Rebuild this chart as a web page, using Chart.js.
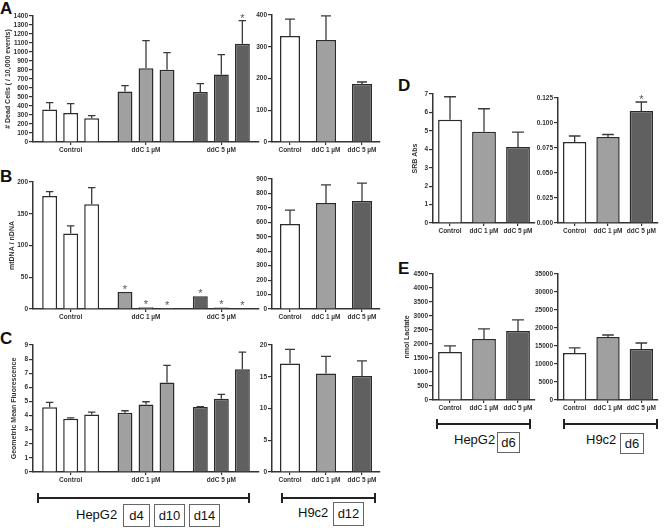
<!DOCTYPE html>
<html>
<head>
<meta charset="utf-8">
<script src="https://cdn.jsdelivr.net/npm/chart.js@4.4.1/dist/chart.umd.min.js"></script>
<style>
  body { margin: 0; background: #fff; width: 664px; height: 528px; position: relative; overflow: hidden;
         font-family: "Liberation Sans", Arial, sans-serif; color: #111; }
  canvas { position: absolute; }
  .pl { position: absolute; font-weight: bold; font-size: 17px; line-height: 17px; }
  .br { position: absolute; height: 0; border-top: 2px solid #222; }
  .br::before, .br::after { content: ''; position: absolute; top: -6px; width: 2px; height: 10px; background: #222; }
  .br::before { left: 0; }
  .br::after { right: 0; }
  .lab { position: absolute; font-size: 13px; line-height: 16px; }
  .box { position: absolute; border: 1px solid #666; font-size: 13px; text-align: center; box-sizing: border-box; }
</style>
</head>
<body>

<div class="pl" style="left:0;top:0">A</div>
<div class="pl" style="left:0;top:168px">B</div>
<div class="pl" style="left:0;top:330px">C</div>
<div class="pl" style="left:398px;top:77px">D</div>
<div class="pl" style="left:398px;top:260px">E</div>

<div class="br" style="left:37px;top:497px;width:213px"></div>
<div class="lab" style="left:76px;top:507px">HepG2</div>
<div class="box" style="left:123px;top:504px;width:27px;height:23px;line-height:21px">d4</div>
<div class="box" style="left:154px;top:504px;width:31px;height:23px;line-height:21px">d10</div>
<div class="box" style="left:189px;top:504px;width:31px;height:23px;line-height:21px">d14</div>

<div class="br" style="left:281px;top:497px;width:95px"></div>
<div class="lab" style="left:298px;top:505px">H9c2</div>
<div class="box" style="left:333px;top:502px;width:31px;height:24px;line-height:22px">d12</div>

<div class="br" style="left:436px;top:423px;width:95px"></div>
<div class="lab" style="left:454px;top:432px">HepG2</div>
<div class="box" style="left:497px;top:432px;width:23px;height:21px;line-height:19px">d6</div>

<div class="br" style="left:563px;top:423px;width:95px"></div>
<div class="lab" style="left:586px;top:432px">H9c2</div>
<div class="box" style="left:620px;top:433px;width:24px;height:21px;line-height:19px">d6</div>

<script>
// categories
const groups = ['Control', 'ddC 1 µM', 'ddC 5 µM'];

// A - dead cells (HepG2 d4, d10, d14; H9c2 d12)
const deadD4 = [360, 560, 556];
const deadD4Err = [78, 67, 93];
const deadD10 = [322, 819, 749];
const deadD10Err = [105, 308, 222];
const deadD14 = [263, 804, 1093];
const deadD14Err = [30, 189, 256];
const deadD14Star = [false, false, true];
const deadH9 = [334, 321, 183];
const deadH9Err = [53, 76, 6];

// B - mtDNA / nDNA
const mtD4 = [178, 26.7, 20];
const mtD4Err = [7, 0, 0];
const mtD10 = [119, 2.7, 2.5];
const mtD10Err = [12, 0, 0];
const mtD14 = [165, 1.6, 1.5];
const mtD14Err = [26, 0, 0];
const mtStar = [false, true, true];
const mtH9 = [588, 733, 747];
const mtH9Err = [97, 127, 125];

// C - geometric mean fluorescence
const fluD4 = [4.58, 4.19, 4.6];
const fluD4Err = [0.35, 0.15, 0.03];
const fluD10 = [3.77, 4.79, 5.19];
const fluD10Err = [0.07, 0.19, 0.31];
const fluD14 = [4.08, 6.35, 7.28];
const fluD14Err = [0.16, 1.21, 1.21];
const fluH9 = [17.1, 15.5, 15.1];
const fluH9Err = [2.2, 2.7, 2.4];

// D - SRB absorbance (d6)
const srbHep = [5.6, 4.95, 4.13];
const srbHepErr = [1.25, 1.25, 0.8];
const srbH9 = [0.081, 0.086, 0.112];
const srbH9Err = [0.006, 0.0025, 0.009];
const srbH9Star = [false, false, true];

// E - lactate (d6)
const lacHep = [1714, 2180, 2460];
const lacHepErr = [216, 360, 400];
const lacH9 = [13055, 17500, 14170];
const lacH9Err = [1400, 550, 1660];

const barColors = ['#ffffff', '#a0a0a0', '#606060'];
const ink = '#333';
const tickFont = { family: 'Liberation Sans', size: 6.5, weight: 'bold' };

// error bars + stars, placed with the y scale
const errorBars = {
  id: 'errorBars',
  afterDatasetsDraw(chart) {
    const ctx = chart.ctx, y = chart.scales.y;
    chart.data.datasets.forEach((ds, i) => {
      chart.getDatasetMeta(i).data.forEach((bar, j) => {
        let top = bar.y;
        const e = ds.errors ? ds.errors[j] : 0;
        ctx.save();
        if (e) {
          const ey = y.getPixelForValue(ds.data[j] + e);
          const half = bar.width / 4;
          ctx.strokeStyle = '#3a3a3a';
          ctx.lineWidth = 1.3;
          ctx.beginPath();
          ctx.moveTo(bar.x, bar.y);
          ctx.lineTo(bar.x, ey);
          ctx.moveTo(bar.x - half, ey);
          ctx.lineTo(bar.x + half, ey);
          ctx.stroke();
          top = ey;
        }
        if (ds.stars && ds.stars[j]) {
          ctx.fillStyle = '#555';
          ctx.font = '11px "Liberation Sans"';
          ctx.textAlign = 'center';
          ctx.textBaseline = 'alphabetic';
          ctx.fillText('*', bar.x, top + 1);
        }
        ctx.restore();
      });
    });
  }
};

function makeChart(s) {
  const c = document.createElement('canvas');
  c.width = s.w; c.height = s.h;
  c.style.left = s.x + 'px'; c.style.top = s.y + 'px';
  c.style.width = s.w + 'px'; c.style.height = s.h + 'px';
  document.body.appendChild(c);

  const datasets = s.series.map(d => ({
    data: d.data,
    errors: d.err,
    stars: d.stars,
    backgroundColor: barColors,
    borderColor: '#2b2b2b',
    borderWidth: 1.5,
    borderSkipped: 'start',
    categoryPercentage: s.cat,
    barPercentage: s.bar
  }));

  new Chart(c, {
    type: 'bar',
    data: { labels: groups, datasets },
    options: {
      responsive: false,
      animation: false,
      devicePixelRatio: 1,
      layout: { padding: { top: 8, right: 3, left: 0, bottom: 0 } },
      plugins: { legend: { display: false }, tooltip: { enabled: false } },
      scales: {
        x: {
          grid: { offset: false, drawOnChartArea: false, tickLength: 3, color: ink, lineWidth: 1.2 },
          border: { color: ink, width: 1.5 },
          ticks: { font: tickFont, color: ink, padding: 1, maxRotation: 0, autoSkip: false },
          afterFit: sc => { sc.height = 16; }
        },
        y: {
          min: 0,
          max: s.max,
          grid: { drawOnChartArea: false, tickLength: 4, color: ink, lineWidth: 1.2 },
          border: { color: ink, width: 1.5 },
          ticks: { stepSize: s.step, autoSkip: false, font: tickFont, color: ink, padding: 1,
                   callback: s.fmt || (v => v) },
          title: { display: !!s.title, text: s.title || '', color: ink,
                   font: { family: 'Liberation Sans', size: 7, weight: 'bold' },
                   padding: { top: s.tPad || 0, bottom: 0 } },
          afterFit: sc => { sc.width = s.yW; }
        }
      }
    },
    plugins: [errorBars]
  });
}

const hepCat = 0.837, hepBar = 0.71;

// A
makeChart({ x: 0, y: 8, w: 262, h: 150, yW: 33, max: 1400, step: 100, cat: hepCat, bar: hepBar,
  title: '# Dead Cells ( / 10,000 events)', tPad: 4.3,
  series: [{ data: deadD4, err: deadD4Err }, { data: deadD10, err: deadD10Err },
           { data: deadD14, err: deadD14Err, stars: deadD14Star }] });
makeChart({ x: 248, y: 7, w: 135, h: 151, yW: 24, max: 400, step: 100, cat: 1, bar: 0.556,
  series: [{ data: deadH9, err: deadH9Err }] });

// B
makeChart({ x: 0, y: 174, w: 262, h: 151, yW: 33, max: 200, step: 50, cat: hepCat, bar: hepBar,
  title: 'mtDNA / nDNA', tPad: 8,
  series: [{ data: mtD4, err: mtD4Err, stars: mtStar }, { data: mtD10, err: mtD10Err, stars: mtStar },
           { data: mtD14, err: mtD14Err, stars: mtStar }] });
makeChart({ x: 248, y: 171, w: 135, h: 154, yW: 24, max: 900, step: 100, cat: 1, bar: 0.556,
  series: [{ data: mtH9, err: mtH9Err }] });

// C
makeChart({ x: 0, y: 337, w: 262, h: 151, yW: 33, max: 9, step: 1, cat: hepCat, bar: hepBar,
  title: 'Geometric Mean Fluorescence', tPad: 10,
  series: [{ data: fluD4, err: fluD4Err }, { data: fluD10, err: fluD10Err }, { data: fluD14, err: fluD14Err }] });
makeChart({ x: 248, y: 337, w: 135, h: 151, yW: 24, max: 20, step: 5, cat: 1, bar: 0.556,
  series: [{ data: fluH9, err: fluH9Err }] });

// D
makeChart({ x: 400, y: 86, w: 138, h: 153, yW: 33, max: 7, step: 1, cat: 1, bar: 0.7,
  title: 'SRB Abs', tPad: 10.8,
  series: [{ data: srbHep, err: srbHepErr }] });
makeChart({ x: 532, y: 90, w: 129, h: 149, yW: 26, max: 0.125, step: 0.025, cat: 1, bar: 0.7,
  fmt: v => Number(v).toFixed(3),
  series: [{ data: srbH9, err: srbH9Err, stars: srbH9Star }] });

// E
makeChart({ x: 398, y: 266, w: 140, h: 150, yW: 35, max: 4500, step: 500, cat: 1, bar: 0.7,
  title: 'nmol Lactate', tPad: 4.8,
  series: [{ data: lacHep, err: lacHepErr }] });
makeChart({ x: 532, y: 266, w: 129, h: 150, yW: 26, max: 35000, step: 5000, cat: 1, bar: 0.7,
  series: [{ data: lacH9, err: lacH9Err }] });
</script>
</body>
</html>
